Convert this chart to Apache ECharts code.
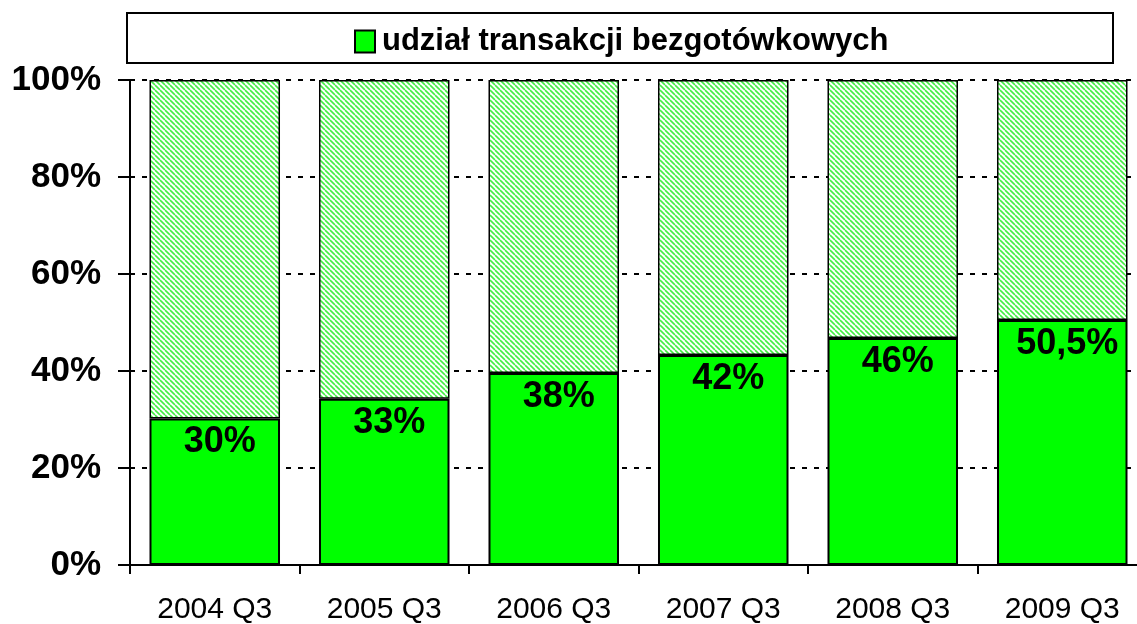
<!DOCTYPE html>
<html>
<head>
<meta charset="utf-8">
<script src="https://cdn.jsdelivr.net/npm/echarts@6/dist/echarts.min.js"></script>
<style>
html,body{margin:0;padding:0;background:#fff;}
#c{width:1137px;height:624px;}
</style>
</head>
<body>
<div id="c"></div>
<script>
const categories = ['2004 Q3','2005 Q3','2006 Q3','2007 Q3','2008 Q3','2009 Q3'];
const shareValues = [30.2, 34.3, 39.6, 43.3, 46.8, 50.5];
const shareLabels = ['30%','33%','38%','42%','46%','50,5%'];
const yTicks = [0, 20, 40, 60, 80, 100];
const seriesName = 'udział transakcji bezgotówkowych';

const restValues = shareValues.map(v => 100 - v);

function makeHatch() {
  const s = 5;
  const cv = document.createElement('canvas');
  cv.width = s; cv.height = s;
  const ctx = cv.getContext('2d');
  ctx.fillStyle = '#ffffff';
  ctx.fillRect(0, 0, s, s);
  ctx.strokeStyle = '#44ee44';
  ctx.lineWidth = 1.6;
  for (const x0 of [-s, 0, s]) {
    ctx.beginPath();
    ctx.moveTo(x0, 0);
    ctx.lineTo(x0 + s, s);
    ctx.stroke();
  }
  return cv;
}

const chart = echarts.init(document.getElementById('c'), null, {renderer: 'canvas'});
const font = '"Liberation Sans", Arial, sans-serif';

chart.setOption({
  animation: false,
  backgroundColor: '#ffffff',
  graphic: [{
    type: 'rect',
    shape: {x: 127, y: 13, width: 986, height: 50},
    style: {fill: '#ffffff', stroke: '#000000', lineWidth: 2},
    z: 0
  }],
  legend: {
    data: [seriesName],
    top: 21,
    left: 349,
    itemWidth: 20,
    itemHeight: 22,
    itemGap: 10,
    icon: 'rect',
    itemStyle: {borderColor: '#000', borderWidth: 2},
    textStyle: {fontFamily: font, fontWeight: 'bold', fontSize: 31, color: '#000', padding: [0, 0, 0, 2]},
    z: 5
  },
  grid: {left: 130, top: 80, width: 1017, height: 485, containLabel: false, outerBoundsMode: 'none'},
  xAxis: {
    type: 'category',
    data: categories,
    axisLine: {lineStyle: {color: '#000', width: 2}},
    axisTick: {show: true, length: 9, lineStyle: {color: '#000', width: 2}},
    axisLabel: {fontFamily: font, fontSize: 30, color: '#000', margin: 30}
  },
  yAxis: {
    type: 'value',
    min: yTicks[0],
    max: yTicks[yTicks.length - 1],
    interval: yTicks[1] - yTicks[0],
    axisLine: {show: true, lineStyle: {color: '#000', width: 2}},
    axisTick: {show: true, length: 12, lineStyle: {color: '#000', width: 2}},
    axisLabel: {fontFamily: font, fontSize: 35, fontWeight: 'bold', color: '#000', margin: 29, formatter: '{value}%'},
    splitLine: {show: true, lineStyle: {color: '#000', width: 2, type: [5, 7]}}
  },
  series: [
    {
      name: seriesName,
      type: 'bar',
      stack: 'total',
      data: shareValues,
      barCategoryGap: '23%',
      itemStyle: {color: '#00ff00', borderColor: '#000', borderWidth: 2},
      label: {
        show: true,
        position: 'insideTop',
        distance: 6,
        offset: [5, 0],
        fontFamily: font,
        fontWeight: 'bold',
        fontSize: 36,
        color: '#000',
        formatter: p => shareLabels[p.dataIndex]
      }
    },
    {
      name: 'rest',
      type: 'bar',
      stack: 'total',
      data: restValues,
      itemStyle: {color: {image: makeHatch(), repeat: 'repeat'}, borderColor: '#000', borderWidth: 1.5},
      label: {show: false}
    }
  ]
});
</script>
</body>
</html>
